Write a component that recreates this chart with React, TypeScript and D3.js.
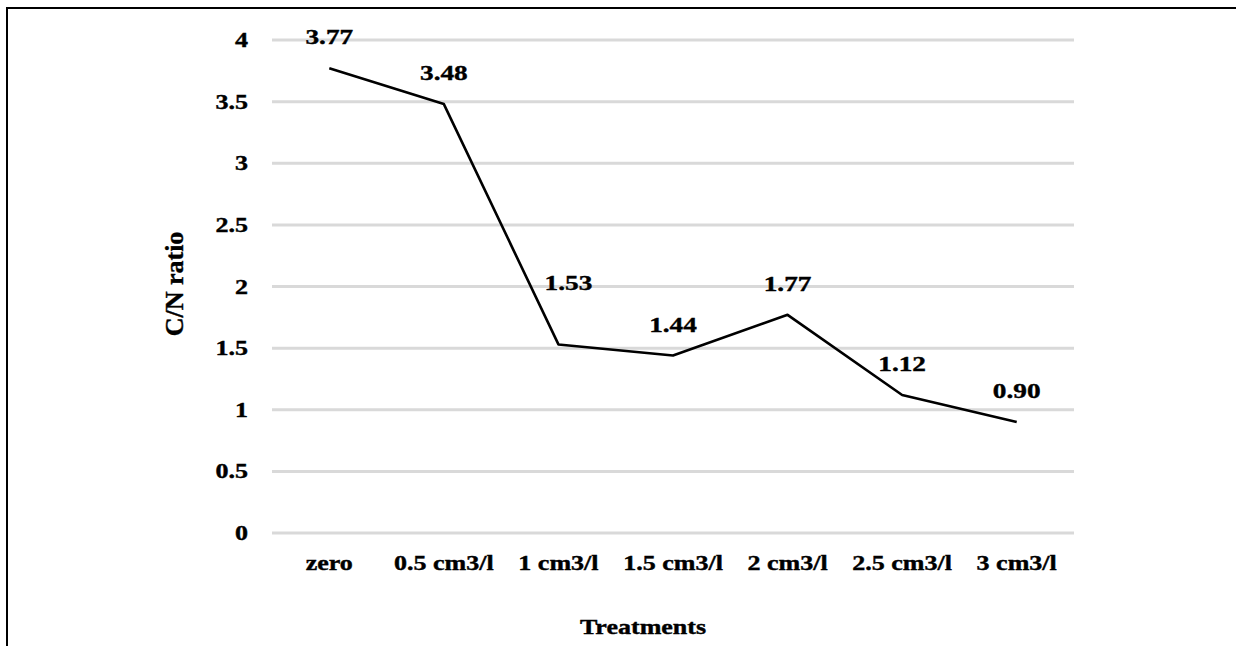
import { useEffect, useRef } from 'react';
import * as d3 from 'd3';

// data
const treatments = ['zero', '0.5 cm3/l', '1 cm3/l', '1.5 cm3/l', '2 cm3/l', '2.5 cm3/l', '3 cm3/l'];
const cnRatio = [3.77, 3.48, 1.53, 1.44, 1.77, 1.12, 0.9];
const yTicks = [0, 0.5, 1, 1.5, 2, 2.5, 3, 3.5, 4];

const W = 1236;
const H = 646;
const FONT = "'Liberation Serif', 'Times New Roman', Times, serif";
const STRETCH = 1.24; // the picture is a bit wider than normal type

function App() {
  const ref = useRef<SVGSVGElement>(null);

  useEffect(() => {
    document.body.style.margin = '0';
    document.body.style.overflow = 'hidden';
    const svg = d3.select(ref.current);
    svg.selectAll('*').remove();

    const x = d3.scalePoint<string>().domain(treatments).range([272, 1074]).padding(0.5);
    const y = d3.scaleLinear().domain([0, 4]).range([533, 40]);

    // frame (cut off at right and bottom)
    svg.append('path')
      .attr('d', `M7,${H} L7,8 L${W},8`)
      .attr('fill', 'none')
      .attr('stroke', '#000')
      .attr('stroke-width', 2);

    // gridlines
    svg.append('g')
      .selectAll('line')
      .data(yTicks)
      .join('line')
      .attr('x1', 272)
      .attr('x2', 1074)
      .attr('y1', (d) => y(d))
      .attr('y2', (d) => y(d))
      .attr('stroke', '#d9d9d9')
      .attr('stroke-width', 3);

    const txt = (g: any, tx: number, ty: number, s: string, size: number, anchor: string) =>
      g.append('text')
        .attr('transform', `translate(${tx},${ty}) scale(${STRETCH},1)`)
        .attr('text-anchor', anchor)
        .style('font-family', FONT)
        .style('font-weight', 'bold')
        .style('font-size', size + 'px')
        .attr('fill', '#000')
        .attr('stroke', '#000')
        .attr('stroke-width', 0.4)
        .text(s);

    // y tick labels
    const yl = svg.append('g');
    yTicks.forEach((t) => txt(yl, 248, y(t) + 7, String(t), 21, 'end'));

    // x tick labels
    const xl = svg.append('g');
    treatments.forEach((c) => txt(xl, x(c)!, 570, c, 21, 'middle'));

    // axis titles
    txt(svg, 643, 634, 'Treatments', 21, 'middle');
    svg.append('text')
      .attr('transform', `translate(183,284) rotate(-90)`)
      .attr('text-anchor', 'middle')
      .style('font-family', FONT)
      .style('font-weight', 'bold')
      .style('font-size', '26px')
      .attr('stroke', '#000')
      .attr('stroke-width', 0.4)
      .text('C/N ratio');

    // the line
    const line = d3.line<number>()
      .x((_, i) => x(treatments[i])!)
      .y((d) => y(d));
    svg.append('path')
      .datum(cnRatio)
      .attr('d', line)
      .attr('fill', 'none')
      .attr('stroke', '#000')
      .attr('stroke-width', 2.6)
      .attr('stroke-linejoin', 'round');

    // data labels, the 1 cm3/l one was moved up in the original
    const nudge: Record<number, [number, number]> = { 2: [10, -30] };
    const dl = svg.append('g');
    cnRatio.forEach((v, i) => {
      const [dx, dy] = nudge[i] || [0, 0];
      txt(dl, x(treatments[i])! + dx, y(v) - 24 + dy, v.toFixed(2), 22, 'middle');
    });
  }, []);

  return (
    <svg
      ref={ref}
      width={W}
      height={H}
      style={{ position: 'absolute', left: 0, top: 0, background: '#fff', display: 'block' }}
    />
  );
}

export default App;
